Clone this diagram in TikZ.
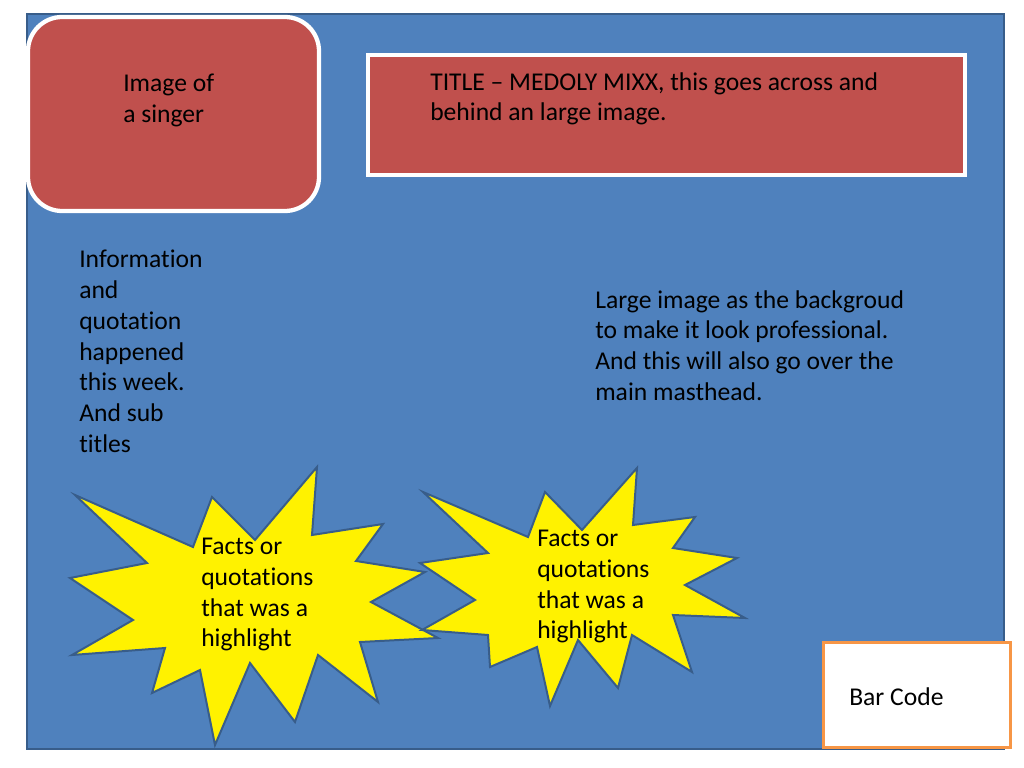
\documentclass[tikz,border=0pt]{standalone}
\usepackage{fontspec}
\setmainfont[Ligatures={NoCommon,NoDiscretionary,NoContextual}]{Carlito}
\definecolor{slideblue}{HTML}{4F81BD}
\definecolor{edgeblue}{HTML}{385D8A}
\definecolor{boxred}{HTML}{C0504D}
\definecolor{barorange}{HTML}{F79646}
\tikzset{
  txt/.style={anchor=north west,inner sep=0pt,align=left,font=\fontsize{18}{21.6}\selectfont},
  burst/.style={draw=edgeblue,line width=1.4pt,fill=yellow,line join=miter},
  redbox/.style={draw=white,line width=3pt,fill=boxred}
}
\begin{document}
\begin{tikzpicture}[x=0.703125pt,y=-0.703125pt]
  \useasboundingbox (0,0) rectangle (1024,768);
  \fill[white] (0,0) rectangle (1024,768);
  % the page
  \draw[edgeblue,line width=1.4pt,fill=slideblue] (27,14) rectangle (1004,749);
  % two bursts
  \draw[burst] (75,495) -- (193,547) -- (212,497) -- (255,540) -- (317,467) -- (312,535)
    -- (383,524) -- (356,561) -- (425,572) -- (371,602) -- (438,638) -- (360,642)
    -- (378,702) -- (318,655) -- (295,722) -- (250,663) -- (215,745) -- (200,670)
    -- (152,693) -- (165,648) -- (72,655) -- (133,620) -- (70,578) -- (147,563) -- cycle;
  \draw[burst] (423,492) -- (488,553) -- (420,563) -- (475,600) -- (422,630) -- (488,635)
    -- (490,667) -- (537,647) -- (550,706) -- (578,640) -- (618,688) -- (632,635)
    -- (692,672) -- (673,615) -- (745,618) -- (685,585) -- (737,558) -- (673,548)
    -- (695,517) -- (633,525) -- (637,468) -- (582,530) -- (545,492) -- (528,537) -- cycle;
  % boxes
  \draw[redbox,rounded corners=24pt] (28,17) rectangle (319,211);
  \draw[redbox] (368,55) rectangle (965,175);
  \draw[barorange,line width=2pt,fill=white] (823.5,642.5) rectangle (1010.5,747.5);
  % texts
  \node[txt] (singer) at (123,74) {Image of\\a singer};
  \node[txt] (title) at (430,72) {TITLE -- MEDOLY MIXX, this goes across and\\behind an large image.};
  \node[txt] (info) at (79,250) {Information\\and\\quotation\\happened\\this week.\\And sub\\titles};
  \node[txt] (large) at (595,290) {Large image as the backgroud\\to make it look professional.\\And this will also go over the\\main masthead.};
  \node[txt] (factsA) at (201,538) {Facts or\\quotations\\that was a\\highlight};
  \node[txt] (factsB) at (537,530) {Facts or\\quotations\\that was a\\highlight};
  \node[txt] (barcode) at (849,687) {Bar Code};
\end{tikzpicture}
\end{document}
